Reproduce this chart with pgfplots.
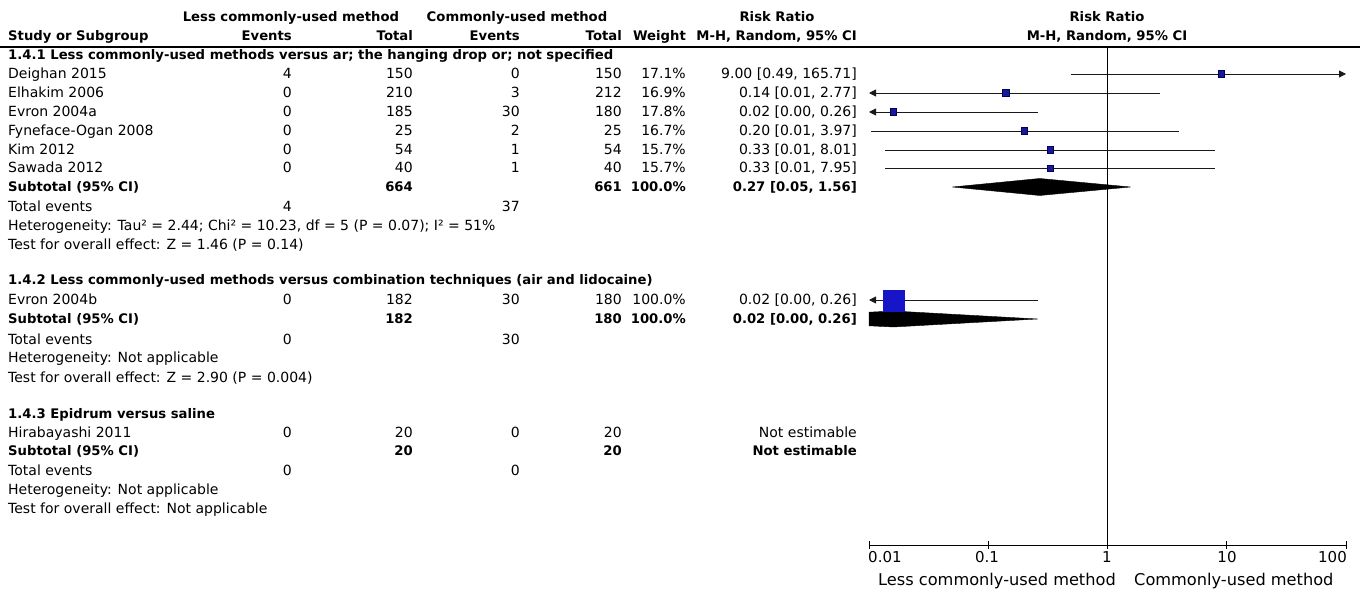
\documentclass[border=0pt]{standalone}
\usepackage{fontspec}
\setmainfont{DejaVu Sans}
\usepackage{pgfplots}
\pgfplotsset{compat=1.18}
\usetikzlibrary{arrows.meta}
\definecolor{sq}{RGB}{22,22,200}
\definecolor{sqs}{RGB}{25,25,150}
\definecolor{sqd}{RGB}{0,0,95}
\tikzset{tx/.style={font=\fontsize{14}{16}\selectfont, inner sep=0pt, text=black},
  arr/.style={black!90,line width=0.9pt}}
\newcommand{\B}{\fontsize{13.2}{15}\selectfont\bfseries}
% y name e1 t1 e2 t2 w ci
\newcommand{\study}[8]{%
 \node[tx,anchor=base west] at (axis cs:8,#1) {#2};
 \node[tx,anchor=base east] at (axis cs:292,#1) {#3};
 \node[tx,anchor=base east] at (axis cs:413,#1) {#4};
 \node[tx,anchor=base east] at (axis cs:520,#1) {#5};
 \node[tx,anchor=base east] at (axis cs:622,#1) {#6};
 \node[tx,anchor=base east] at (axis cs:686,#1) {#7};
 \node[tx,anchor=base east] at (axis cs:857,#1) {#8};}
\newcommand{\lefttext}[2]{\node[tx,anchor=base west] at (axis cs:8,#1) {#2};}
\begin{document}
\begin{tikzpicture}
\useasboundingbox (0,0) rectangle (1363pt,594pt);
\begin{axis}[at={(0,0)},anchor=south west,width=1363pt,height=594pt,scale only axis,
  xmin=0,xmax=1363,ymin=0,ymax=594,hide axis,clip=false]
% header
\node[tx,anchor=base] at (axis cs:291,572.5) {\B Less commonly-used method};
\node[tx,anchor=base] at (axis cs:517,572.5) {\B Commonly-used method};
\node[tx,anchor=base] at (axis cs:777,572.5) {\B Risk Ratio};
\node[tx,anchor=base] at (axis cs:1107,572.5) {\B Risk Ratio};
\study{553.5}{\B Study or Subgroup}{\B Events}{\B Total}{\B Events}{\B Total}{\B Weight}{\B M-H, Random, 95\% CI}
\node[tx,anchor=base] at (axis cs:1107,553.5) {\B M-H, Random, 95\% CI};
\addplot[black,line width=1.6pt] coordinates {(0,547) (1360,547)};
% group 1
\lefttext{534.5}{\B 1.4.1 Less commonly-used methods versus ar; the hanging drop or; not specified}
\study{515.5}{Deighan 2015}{4}{150}{0}{150}{17.1\%}{9.00 [0.49, 165.71]}
\study{496.5}{Elhakim 2006}{0}{210}{3}{212}{16.9\%}{0.14 [0.01, 2.77]}
\study{477.5}{Evron 2004a}{0}{185}{30}{180}{17.8\%}{0.02 [0.00, 0.26]}
\study{458.5}{Fyneface-Ogan 2008}{0}{25}{2}{25}{16.7\%}{0.20 [0.01, 3.97]}
\study{439.5}{Kim 2012}{0}{54}{1}{54}{15.7\%}{0.33 [0.01, 8.01]}
\study{421}{Sawada 2012}{0}{40}{1}{40}{15.7\%}{0.33 [0.01, 7.95]}
\study{402.5}{\B Subtotal (95\% CI)}{}{\B 664}{}{\B 661}{\B 100.0\%}{\B 0.27 [0.05, 1.56]}
\study{382.5}{Total events}{4}{}{37}{}{}{}
\lefttext{363.5}{Heterogeneity: Tau² = 2.44; Chi² = 10.23, df = 5 (P = 0.07); I² = 51\%}
\lefttext{344.5}{Test for overall effect: Z = 1.46 (P = 0.14)}
% group 2
\lefttext{309.5}{\B 1.4.2 Less commonly-used methods versus combination techniques (air and lidocaine)}
\study{289.5}{Evron 2004b}{0}{182}{30}{180}{100.0\%}{0.02 [0.00, 0.26]}
\study{270.5}{\B Subtotal (95\% CI)}{}{\B 182}{}{\B 180}{\B 100.0\%}{\B 0.02 [0.00, 0.26]}
\study{249.5}{Total events}{0}{}{30}{}{}{}
\lefttext{231.5}{Heterogeneity: Not applicable}
\lefttext{211.5}{Test for overall effect: Z = 2.90 (P = 0.004)}
% group 3
\lefttext{175.5}{\B 1.4.3 Epidrum versus saline}
\study{156.5}{Hirabayashi 2011}{0}{20}{0}{20}{}{Not estimable}
\study{138.5}{\B Subtotal (95\% CI)}{}{\B 20}{}{\B 20}{}{\B Not estimable}
\study{118.5}{Total events}{0}{}{0}{}{}{}
\lefttext{99.5}{Heterogeneity: Not applicable}
\lefttext{80.5}{Test for overall effect: Not applicable}
% tick labels
\node[tx,anchor=base west,font=\fontsize{15}{17}\selectfont] at (axis cs:868,31.5) {0.01};
\node[tx,anchor=base,font=\fontsize{15}{17}\selectfont] at (axis cs:987,31.5) {0.1};
\node[tx,anchor=base,font=\fontsize{15}{17}\selectfont] at (axis cs:1107,31.5) {1};
\node[tx,anchor=base,font=\fontsize{15}{17}\selectfont] at (axis cs:1227,31.5) {10};
\node[tx,anchor=base east,font=\fontsize{15}{17}\selectfont] at (axis cs:1347,31.5) {100};
\node[tx,anchor=base east,font=\fontsize{16.2}{18}\selectfont] at (axis cs:1116,8) {Less commonly-used method};
\node[tx,anchor=base west,font=\fontsize{16.2}{18}\selectfont] at (axis cs:1134,8) {Commonly-used method};
\end{axis}
\begin{axis}[at={(869pt,49pt)},anchor=south west,width=477pt,height=498pt,scale only axis,
  xmode=log,xmin=0.01,xmax=100,ymin=49,ymax=547,
  axis x line*=bottom, axis y line=none, x axis line style={-,line width=0.9pt},
  xtick={0.01,0.1,1,10,100}, xticklabels={}, xminorticks=false,
  tick align=center, major tick length=8pt, every tick/.style={black,line width=0.9pt},
  clip=false]
\addplot[black,line width=0.9pt] coordinates {(1,49) (1,547)};
% CIs
\addplot[arr,-{Triangle[length=7pt,width=7pt]}] coordinates {(0.49,520) (100,520)};
\addplot[arr,{Triangle[length=7pt,width=7pt]}-] coordinates {(0.01,501) (2.77,501)};
\addplot[arr,{Triangle[length=7pt,width=7pt]}-] coordinates {(0.01,482) (0.26,482)};
\addplot[arr] coordinates {(0.0104,463) (3.97,463)};
\addplot[arr] coordinates {(0.0137,444) (8.01,444)};
\addplot[arr] coordinates {(0.0137,425.5) (7.95,425.5)};
\addplot[arr,{Triangle[length=7pt,width=7pt]}-] coordinates {(0.01,294) (0.26,294)};
% squares
\addplot[only marks,mark=square*,mark size=3.2pt,mark options={fill=sqs,draw=sqd,line width=0.6pt}] coordinates {(9,520) (0.14,501) (0.016,482) (0.2,463) (0.33,444) (0.33,425.5)};
% diamonds
\addplot[fill=black,draw=black] coordinates {(0.05,407) (0.27,415.5) (1.56,407) (0.27,398.5)} -- cycle;
\addplot[fill=black,draw=black] coordinates {(0.01,281.8) (0.016,283) (0.26,275) (0.016,267) (0.01,268.2)} -- cycle;
\addplot[only marks,mark=square*,mark size=10.5pt,mark options={fill=sq,draw=sq}] coordinates {(0.016,293.5)};
\end{axis}
\end{tikzpicture}
\end{document}
